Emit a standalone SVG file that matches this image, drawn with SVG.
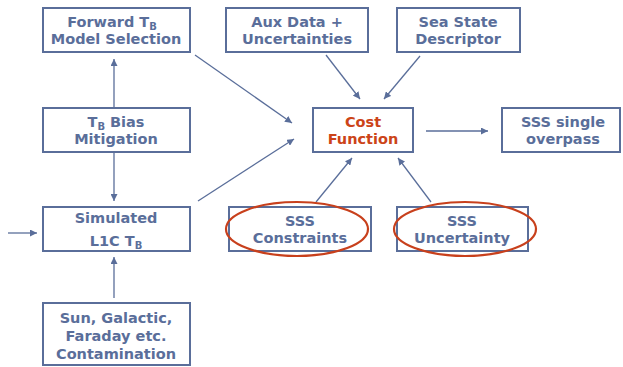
<svg xmlns="http://www.w3.org/2000/svg" width="623" height="367" viewBox="0 0 623 367">
<style>
.box{fill:#fff;stroke:#5a6e9a;stroke-width:2}
.t{font-family:"DejaVu Sans",sans-serif;font-weight:bold;font-size:14.5px;fill:#5a6e9a;text-anchor:middle}
.r{fill:#cc4418}
.s{font-size:10px}
.c{stroke:#5a6e9a;stroke-width:1.3;fill:none;marker-end:url(#ah)}
.e{fill:none;stroke:#c8401c;stroke-width:2.2}
</style>
<defs>
<marker id="ah" viewBox="0 0 10 10" refX="10" refY="5" markerWidth="7" markerHeight="7" markerUnits="userSpaceOnUse" orient="auto">
<path d="M0,0 L10,5 L0,10 z" fill="#5a6e9a"/>
</marker>
</defs>
<rect width="623" height="367" fill="#fff"/>
<g id="connectors">
<line class="c" x1="114" y1="107" x2="114" y2="59"/>
<line class="c" x1="114" y1="153" x2="114" y2="201"/>
<line class="c" x1="8" y1="233" x2="37" y2="233"/>
<line class="c" x1="114" y1="298" x2="114" y2="257"/>
<line class="c" x1="195" y1="55" x2="292" y2="123"/>
<line class="c" x1="198" y1="201" x2="294" y2="139"/>
<line class="c" x1="326" y1="55" x2="360" y2="99"/>
<line class="c" x1="420" y1="56" x2="384" y2="99"/>
<line class="c" x1="426" y1="131" x2="488" y2="131"/>
<line class="c" x1="316" y1="202" x2="352" y2="158"/>
<line class="c" x1="431" y1="202" x2="398" y2="158"/>
</g>
<g id="forward">
<rect class="box" x="43" y="8" width="147" height="44"/>
<text class="t" x="112" y="27">Forward T<tspan class="s" dy="3">B</tspan></text>
<text class="t" x="116" y="44">Model Selection</text>
</g>
<g id="bias">
<rect class="box" x="43" y="108" width="147" height="44"/>
<text class="t" x="116" y="127">T<tspan class="s" dy="3">B</tspan><tspan dy="-3"> Bias</tspan></text>
<text class="t" x="116" y="144">Mitigation</text>
</g>
<g id="simulated">
<rect class="box" x="43" y="207" width="147" height="44"/>
<text class="t" x="116" y="223">Simulated</text>
<text class="t" x="116" y="246">L1C T<tspan class="s" dy="3">B</tspan></text>
</g>
<g id="sun">
<rect class="box" x="43" y="303" width="147" height="62"/>
<text class="t" x="116" y="323">Sun, Galactic,</text>
<text class="t" x="116" y="341">Faraday etc.</text>
<text class="t" x="116" y="359">Contamination</text>
</g>
<g id="aux">
<rect class="box" x="226" y="8" width="142" height="44"/>
<text class="t" x="297" y="27">Aux Data +</text>
<text class="t" x="297" y="44">Uncertainties</text>
</g>
<g id="sea">
<rect class="box" x="397" y="8" width="123" height="44"/>
<text class="t" x="458" y="27">Sea State</text>
<text class="t" x="458" y="44">Descriptor</text>
</g>
<g id="cost">
<rect class="box" x="313" y="108" width="100" height="44"/>
<text class="t r" x="363" y="127">Cost</text>
<text class="t r" x="363" y="144">Function</text>
</g>
<g id="single">
<rect class="box" x="502" y="108" width="118" height="44"/>
<text class="t" x="563" y="127">SSS single</text>
<text class="t" x="563" y="144">overpass</text>
</g>
<g id="constraints">
<rect class="box" x="229" y="207" width="142" height="44"/>
<text class="t" x="300" y="226">SSS</text>
<text class="t" x="300" y="243">Constraints</text>
<ellipse class="e" cx="297" cy="229" rx="71" ry="27"/>
</g>
<g id="uncertainty">
<rect class="box" x="397" y="207" width="131" height="44"/>
<text class="t" x="462" y="226">SSS</text>
<text class="t" x="462" y="243">Uncertainty</text>
<ellipse class="e" cx="465" cy="229" rx="71" ry="27"/>
</g>
</svg>
